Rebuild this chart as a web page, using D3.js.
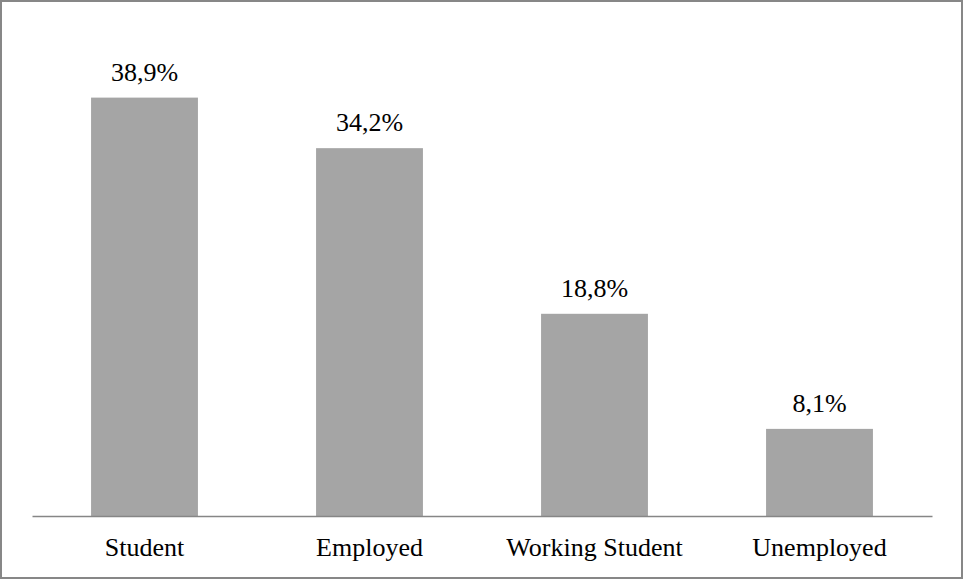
<!DOCTYPE html>
<html>
<head>
<meta charset="utf-8">
<script src="https://cdn.jsdelivr.net/npm/d3@7"></script>
<style>
  html, body { margin: 0; padding: 0; background: #fff; }
  svg { display: block; }
</style>
</head>
<body>
<svg id="chart" width="963" height="579"></svg>
<script>
// Share of respondents by occupation status (%)
const categories = ["Student", "Employed", "Working Student", "Unemployed"];
const values = [38.9, 34.2, 18.8, 8.1];
const valueLabels = ["38,9%", "34,2%", "18,8%", "8,1%"];

const W = 963, H = 579;
const plot = { left: 32, right: 932, top: 32, bottom: 516 };
const FONT = "'Liberation Serif', 'Times New Roman', Times, serif";

const svg = d3.select("#chart");

// outer frame
svg.append("rect")
  .attr("x", 1).attr("y", 1)
  .attr("width", W - 2).attr("height", H - 2)
  .attr("fill", "#fff")
  .attr("stroke", "#878787")
  .attr("stroke-width", 2);

const x = d3.scaleBand()
  .domain(categories)
  .range([plot.left, plot.right])
  .paddingInner(0.525)
  .paddingOuter(0.2625);

const y = d3.scaleLinear()
  .domain([0, 45])
  .range([plot.bottom, plot.top]);

const data = categories.map((c, i) => ({ c, v: values[i], label: valueLabels[i] }));

// bars
svg.append("g")
  .selectAll("rect")
  .data(data)
  .join("rect")
  .attr("x", d => x(d.c))
  .attr("y", d => y(d.v))
  .attr("width", x.bandwidth())
  .attr("height", d => y(0) - y(d.v))
  .attr("fill", "#a5a5a5");

// value labels above bars
svg.append("g")
  .selectAll("text")
  .data(data)
  .join("text")
  .attr("x", d => x(d.c) + x.bandwidth() / 2)
  .attr("y", d => y(d.v) - 17)
  .attr("text-anchor", "middle")
  .style("font-family", FONT)
  .style("font-size", "26px")
  .attr("fill", "#000")
  .text(d => d.label);

// category axis
const axis = svg.append("g")
  .attr("transform", `translate(0,${plot.bottom})`)
  .call(d3.axisBottom(x).tickSize(0).tickPadding(0));
axis.attr("font-family", null).attr("font-size", null);
axis.select(".domain")
  .attr("stroke", "#868686")
  .attr("stroke-width", 1.5);
axis.selectAll(".tick text")
  .style("font-family", FONT)
  .style("font-size", "26px")
  .attr("fill", "#000")
  .attr("dy", null)
  .attr("y", 40);
</script>
</body>
</html>
